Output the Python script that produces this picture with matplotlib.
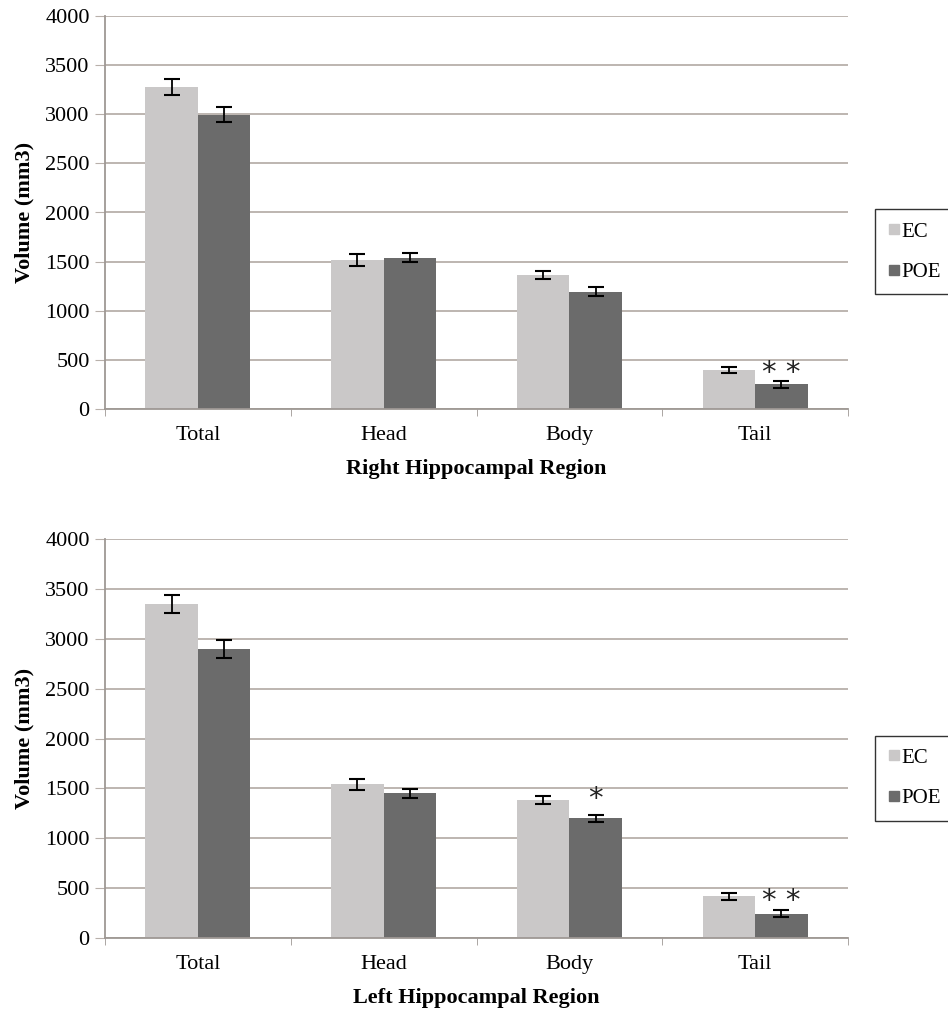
import numpy as np
import matplotlib
matplotlib.use('Agg')
import matplotlib.pyplot as plt
from matplotlib.lines import Line2D

plt.rcParams['font.family'] = ['Liberation Serif', 'DejaVu Serif']

regions = ['Total', 'Head', 'Body', 'Tail']
groups = ['EC', 'POE']

right_ec = [3280, 1515, 1360, 400]
right_ec_err = [80, 60, 40, 30]
right_poe = [2995, 1540, 1195, 250]
right_poe_err = [75, 48, 45, 35]

left_ec = [3350, 1540, 1385, 420]
left_ec_err = [90, 55, 40, 35]
left_poe = [2895, 1450, 1200, 245]
left_poe_err = [90, 45, 35, 35]

# significance marks: (region index, text, y value)
right_marks = [(3, '* *', 365)]
left_marks = [(2, '*', 1390), (3, '* *', 370)]

ec_color = '#cac8c8'
poe_color = '#6b6b6b'
grid_color = '#b8b0aa'
axis_color = '#9e9894'
fs = 16


def draw(ax, ec, ec_err, poe, poe_err, marks, xlabel):
    x = np.arange(len(regions))
    w = 0.283
    ax.bar(x - w / 2, ec, w, color=ec_color, zorder=2)
    ax.bar(x + w / 2, poe, w, color=poe_color, zorder=2)
    ax.errorbar(x - w / 2, ec, yerr=ec_err, fmt='none', ecolor='black',
                elinewidth=1.3, capsize=6, capthick=1.5, zorder=3)
    ax.errorbar(x + w / 2, poe, yerr=poe_err, fmt='none', ecolor='black',
                elinewidth=1.3, capsize=6, capthick=1.5, zorder=3)
    for i, txt, yv in marks:
        ax.text(x[i] + w / 2, yv, txt, ha='center', va='center',
                fontsize=21, family='DejaVu Sans', color='#222222', zorder=4)

    ax.set_xlim(-0.5, len(regions) - 0.5)
    ax.set_ylim(0, 4000)
    ax.set_yticks(np.arange(0, 4001, 500))
    ax.yaxis.grid(True, color=grid_color, linewidth=1.3, zorder=0)
    ax.set_axisbelow(True)

    ax.set_xticks(x)
    ax.set_xticklabels(regions, fontsize=fs)
    ax.set_xticks(np.arange(-0.5, len(regions)), minor=True)
    ax.tick_params(axis='x', which='major', length=0, pad=12)
    ax.tick_params(axis='x', which='minor', length=5, color=axis_color, direction='out')
    ax.tick_params(axis='y', length=7, color=grid_color, labelsize=fs, pad=4)

    for s in ['top', 'right']:
        ax.spines[s].set_visible(False)
    ax.spines['left'].set_color(axis_color)
    ax.spines['bottom'].set_color(axis_color)
    ax.spines['left'].set_linewidth(1.3)
    ax.spines['bottom'].set_linewidth(1.3)

    ax.set_ylabel('Volume (mm3)', fontsize=fs, fontweight='bold', labelpad=8)
    ax.set_xlabel(xlabel, fontsize=fs, fontweight='bold', labelpad=10)


fig = plt.figure(figsize=(9.48, 10.13), dpi=100)
ax1 = fig.add_axes([105 / 948, 1 - 409 / 1013, 743 / 948, 393 / 1013])
ax2 = fig.add_axes([105 / 948, 1 - 938 / 1013, 743 / 948, 399 / 1013])

draw(ax1, right_ec, right_ec_err, right_poe, right_poe_err, right_marks,
     'Right Hippocampal Region')
draw(ax2, left_ec, left_ec_err, left_poe, left_poe_err, left_marks,
     'Left Hippocampal Region')

handles = [Line2D([], [], marker='s', linestyle='none', markersize=7,
                  color=ec_color),
           Line2D([], [], marker='s', linestyle='none', markersize=7,
                  color=poe_color)]

for yc in [1 - 252 / 1013, 1 - 778 / 1013]:
    leg = fig.legend(handles, groups, loc='center left',
                     bbox_to_anchor=(875 / 948, yc), fontsize=15,
                     frameon=True, fancybox=False, handletextpad=0.05,
                     handlelength=0.6, labelspacing=1.0, borderpad=0.6,
                     borderaxespad=0)
    leg.get_frame().set_edgecolor('black')
    leg.get_frame().set_linewidth(1.0)

fig.savefig('out.png', dpi=100)
